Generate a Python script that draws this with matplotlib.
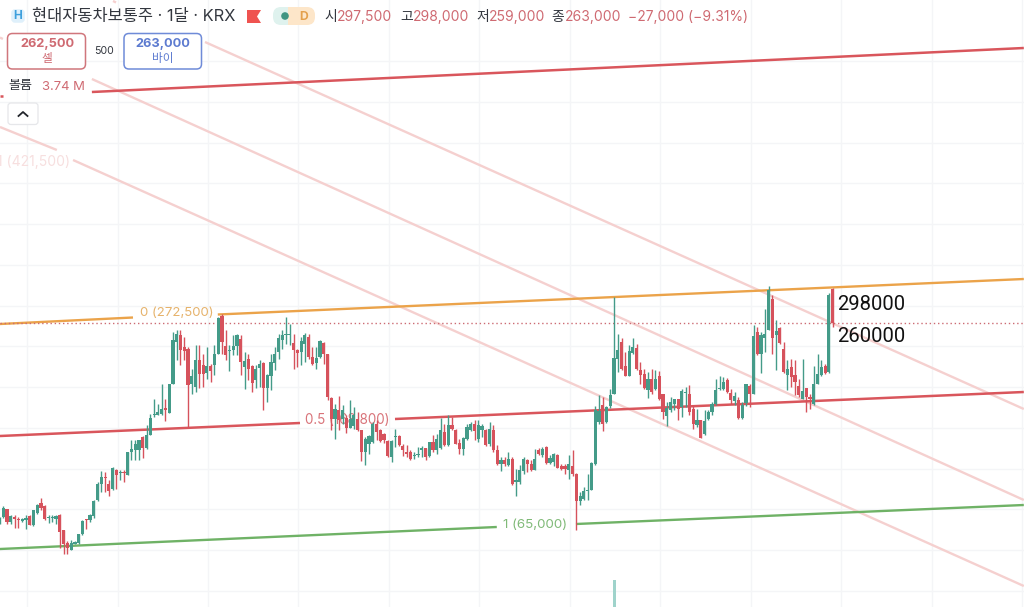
import matplotlib
matplotlib.use("Agg")
import matplotlib.pyplot as plt
from matplotlib.patches import FancyBboxPatch, Polygon, Circle, Rectangle
import numpy as np

plt.rcParams['font.family'] = ['Inter', 'Noto Sans CJK KR', 'DejaVu Sans']

# OHLC, thousands of KRW, monthly bars
opens = [62.5,69.5,77,64.5,69.5,67.5,65.5,66.5,70.5,61,73.5,83.5,80.5,68.5,68.5,67.5,71.5,56,43.5,36.5,
42.5,43.5,52,67,66,70,86,102.5,109.5,102.5,97,116.5,113.5,114.5,111.5,134.5,136,136,149.5,138.5,
151,171,171.5,172.5,178.5,173.5,202.5,244.5,251,239.5,237.5,202,199.5,226,221,213.5,220,221,232.5,270.5,
240,235,236.5,240,247.5,219.5,227.5,220,206,218.5,223.5,198.5,210.5,223.5,234.5,246,251,251.5,243.5,236,
234.5,242,249.5,229.5,223.5,229.5,243.5,232,188.5,167.5,176.5,167.5,168.5,158.5,160,167,156,134.5,142.5,144.5,
162.5,156,152.5,145,129.5,149.5,150,140,134.5,134.5,130,131,136,138.5,130.5,144.5,136.5,138.5,154.5,141,
161,156.5,143.5,137.5,147,156,162.5,147.5,156.5,156.5,142,156.5,136,122,126.5,121,127.5,104.5,104.5,115.5,
126.5,122.5,116.5,136,131,139.5,123.5,124.5,131,120.5,120,116.5,120,112.5,85.5,87.5,95.5,96,122.5,164.5,
181,164.5,180,192.5,227.5,244.5,220,210,233.5,238.5,216.5,212.5,196.5,207,197.5,210.5,192,170,176,182,
187.5,179.5,193.5,192,177.5,161,166,152,167,174.5,182.5,197.5,197.5,206.5,193.5,185.5,186,168.5,183.5,200.5,
192,254.5,232,248.5,256.5,287.5,251,258.5,237,211,219.5,211,200,187.5,198.5,189.5,182.5,202.5,211,220,214.5,297.5]
highs = [69.5,80,77.5,71,71,69.5,68.5,71,71,76.5,82.5,88.5,81,71.5,71,71,72,56.5,45.5,46,
45.5,52.5,66,67.5,72.5,86.5,104.5,115.5,114.5,106,119.5,117.5,116,116,134.5,146,146,146.5,150,161,
172.5,187.5,182.5,202.5,187.5,202.5,254.5,256,256.5,249.5,239.5,217.5,241,241,232.5,239.5,222.5,241,269.5,272.5,
256,241,251,252.5,251,234.5,232.5,221,221,226,224.5,212.5,232.5,239.5,252.5,256,269.5,262.5,252.5,237.5,
249.5,253.5,252.5,239.5,239.5,246.5,244.5,232.5,189.5,182.5,190,181,171,186,179.5,174.5,156.5,149.5,151,164.5,
166,157.5,153.5,146,146,157.5,151,142,141,136.5,134.5,139.5,140,138.5,144.5,151,152.5,168.5,162.5,171,
169.5,157.5,147.5,149.5,162,164.5,166,166,162.5,157.5,164.5,161,141,129.5,129.5,134.5,129.5,117.5,121,129.5,
127.5,126,137.5,138.5,139.5,140,131,133.5,132.5,122,122,131,136,113.5,94.5,99.5,112.5,124.5,180,191,
189.5,180,197.5,289.5,252.5,248.5,234.5,241,248.5,242.5,224.5,217.5,214.5,217.5,216.5,215.5,192.5,184.5,189.5,187.5,
187.5,197.5,199.5,201,181,177.5,166,176,176,184.5,207.5,210,209.5,208.5,197.5,194.5,189.5,184.5,202.5,202.5,
261,259.5,254.5,277.5,300,291,266,259.5,244.5,226,227.5,226,207.5,227.5,198.5,192.5,220,232,226,222.5,293.5,298]
lows = [62,68.5,62.5,62,58.5,58.5,64.5,57.5,61,60,72.5,76,66.5,63.5,64.5,62.5,38.5,32,32.5,36,
42,42.5,51,57.5,64.5,68.5,85,94.5,94.5,90.5,96.5,97.5,106.5,104.5,111,126,126,126.5,128.5,137.5,
151,169.5,171,171,165.5,173,202.5,226,221,226,159.5,192.5,194.5,198.5,199.5,207.5,204.5,211,232.5,232.5,
226,215.5,231,231,211,197,206,194.5,198.5,199.5,176,184.5,196,216,227.5,237.5,242.5,241,217.5,219.5,
221,224.5,227.5,221,217.5,228.5,222.5,186,156.5,147,156,162.5,153.5,158.5,157.5,155.5,125.5,121,132.5,143.5,
146.5,144.5,143.5,129.5,124.5,139.5,140,130,129.5,126,127.5,129.5,129.5,126.5,129.5,134.5,132.5,137.5,140,140,
156,142,132.5,131,146,155.5,146.5,144.5,149.5,140,140,134.5,121,115.5,120,120,101,90,102.5,112.5,
114.5,115.5,116,131,129.5,122.5,122,120,118,116.5,112.5,107.5,110,56,81,86.5,86,96,121,162.5,
155.5,163.5,178.5,192,214.5,216,210,210,232,216.5,202.5,197.5,188.5,192.5,196,186.5,167.5,160.5,174.5,176,
166,169.5,179.5,171,157.5,159.5,148.5,151,166,171,181,196,196,193.5,182,181,167.5,167.5,180,179.5,
192,231,213.5,234.5,256.5,232,216,242.5,213.5,196.5,199.5,191,189.5,187.5,174.5,177.5,181.5,202,210,212,213.5,259]
closes = [68.5,78.5,64.5,70,67.5,66,67.5,68.5,61.5,76,81.5,78.5,67,69.5,69.5,70,54.5,42,38.5,43.5,
44.5,52,65,66,71,85.5,102.5,109.5,108.5,95,118.5,111,114.5,113.5,134.5,137.5,142.5,146.5,138.5,151,
168.5,172.5,174.5,177.5,176,202,246,252,236,235.5,201.5,210,226,212,212,220,215.5,232,268.5,244.5,
231,236,240,251.5,224.5,225.5,217.5,203.5,217.5,222.5,198.5,211,224.5,232,248.5,251,252.5,252.5,236,233.5,
245.5,251,229.5,222.5,228.5,245.5,232.5,189.5,167.5,177.5,166.5,176,158.5,167.5,171,156,134.5,147.5,150.5,162.5,
154.5,145.5,146,130,145.5,150.5,141,136.5,132.5,127.5,131.5,132.5,138.5,129.5,144.5,136.5,147.5,156,141,161,
157,142.5,137.5,148.5,159.5,162.5,155.5,161,160,141,157.5,136,122,126.5,122,127.5,102.5,106.5,116,127.5,
122,116,127.5,132,137.5,123.5,128.5,132,118.5,117.5,117.5,122,112.5,85.5,90,95.5,96,123.5,176,175.5,
162.5,179.5,191,228.5,236.5,217.5,210,235,239.5,217.5,211,198.5,207,194.5,207.5,187.5,174.5,178.5,184.5,187,
177.5,195.5,194.5,174.5,162.5,166.5,148.5,165.5,174.5,182.5,196,198.5,204.5,194.5,186.5,190,168.5,181,202,192.5,
250,232,251,252.5,296,248.5,255.5,243.5,214.5,217.5,209.5,204.5,191,195.5,189.5,187.5,202,212,219.5,213.5,291,263]

last_price = 263
volume_index = [163]
volume_values = [27e6]

# trend-line segments: (bar, price) pairs
orange_segments = [((0.12, 262), (35.4, 268.5)), ((57.9, 271.5), (271.7, 307))]
mid_segments = [((0.12, 150), (79.7, 163)), ((104.9, 167), (271.7, 194))]
green_segments = [((0.12, 37), (131.9, 59)), ((152.9, 62), (271.7, 81))]
top_red_segments = [((0.12, 490), (0.9, 490)), ((24.5, 494), (271.7, 538))]
pink_segments = [((30.1, 585), (30.9, 583.5)), ((54.5, 544), (271.7, 177)),
                 ((0.12, 548.5), (0.9, 547)), ((24.5, 507), (271.7, 86)),
                 ((0.12, 459), (15.2, 436)), ((19.5, 426), (271.7, 0))]

GREEN, RED = '#449b89', '#d6525c'
W, H = 1024, 607
fig = plt.figure(figsize=(W/100, H/100), dpi=100, facecolor='white')
ax = fig.add_axes([0, 0, 1, 1])
ax.set_xlim(0.125, 271.75)
ax.set_ylim(-21, 586)
ax.set_axis_off()

# grid
for gx in 7.3 + 24.0 * np.arange(0, 12):
    ax.axvline(gx, color='#f4f5f7', lw=1, zorder=0)
for gy in 525 - 40.75 * np.arange(0, 14):
    ax.axhline(gy, color='#f4f5f7', lw=1, zorder=0)

def draw(segs, color, lw, z=2):
    for (a, b) in segs:
        ax.plot([a[0], b[0]], [a[1], b[1]], color=color, lw=lw, zorder=z, solid_capstyle='butt')

draw(pink_segments, '#f5d0cf', 1.7)
draw(top_red_segments, '#d9565c', 1.8)
draw(orange_segments, '#eba34a', 1.7)
draw(mid_segments, '#d9565c', 1.8)
draw(green_segments, '#6fb266', 1.7)
ax.axhline(last_price, color='#cc6b73', lw=1.0, ls=(0, (1, 2)), zorder=2)

# labels that candles sit on
lab = dict(va='center', zorder=3)
def dx(px): return (px + 0.47) / 3.77
def dy(py): return 586 - py
ax.text(dx(140), dy(313.5), '0 (272,500)', color='#e6b36c', fontsize=9.5, **lab)
ax.text(dx(305), dy(420), '0.5 (168,800)', color='#d9747a', fontsize=9.7, **lab)
ax.text(dx(503), dy(525.5), '1 (65,000)', color='#80ba78', fontsize=9.6, **lab)
ax.text(dx(-3), dy(162), '1 (421,500)', color='#f7dfdf', fontsize=10, clip_on=True, **lab)

# candles
idx = np.arange(len(closes))
o, h, l, c = map(np.array, (opens, highs, lows, closes))
colors = [GREEN if cc >= oo else RED for oo, cc in zip(o, c)]
ax.vlines(idx, l, h, colors=colors, lw=1.0, zorder=4)
top = np.maximum(o, c); bot = np.minimum(o, c)
ax.bar(idx, np.maximum(top - bot, 1), bottom=bot, width=0.84, color=colors, lw=0, zorder=5)

# volume
ax2 = ax.twinx()
ax2.set_ylim(0, 607e6)
ax2.set_axis_off()
ax2.bar(volume_index, volume_values, width=0.8, color='#9fd3cb', lw=0)

# overlay (pixel coordinates)
ov = fig.add_axes([0, 0, 1, 1], facecolor='none')
ov.set_xlim(0, W); ov.set_ylim(H, 0); ov.set_axis_off()

def T(x, y, s, color='#2a2e39', size=10, weight='normal', ha='left', family=None):
    kw = {'family': family} if family else {}
    ov.text(x, y, s, color=color, fontsize=size, fontweight=weight, ha=ha, va='center', **kw)

def box(x0, y0, x1, y1, ec, fc='white', r=5, lw=1.1):
    ov.add_patch(FancyBboxPatch((x0 + r, y0 + r), x1 - x0 - 2*r, y1 - y0 - 2*r,
                                boxstyle=f'round,pad={r},rounding_size={r}', ec=ec, fc=fc, lw=lw))

REDT, BLUET = '#cf6a72', '#5d7bd0'
box(12, 10, 24, 22, '#dff0fb', '#dff0fb', r=3)
T(18, 16, 'H', '#3d9fdc', 8.5, 'bold', 'center')
T(32, 16.5, '현대자동차보통주 · 1달 · KRX', '#33373f', 11.8)
ov.add_patch(Polygon([(247, 10), (261, 10), (257, 16.5), (261, 23), (247, 23)], fc='#ef5350', ec='none'))
box(273, 7, 296, 25, '#dff2ee', '#dff2ee', r=8, lw=0)
box(288, 7, 315, 25, '#fde6c9', '#fde6c9', r=8, lw=0)
ov.add_patch(Rectangle((288, 7), 8, 18, fc='#fde6c9', ec='none'))
ov.add_patch(Circle((285, 16), 3.8, fc='#3f9582', ec='none'))
T(304, 16.5, 'D', '#e4a04c', 8.8, 'bold', 'center')

T(324, 16.5, '시', '#33373f', 10)
T(337, 16.5, '297,500', REDT, 10)
T(400, 16.5, '고', '#33373f', 10)
T(413, 16.5, '298,000', REDT, 10)
T(476, 16.5, '저', '#33373f', 10)
T(489, 16.5, '259,000', REDT, 10)
T(551, 16.5, '종', '#33373f', 10)
T(565, 16.5, '263,000', REDT, 10)
T(628, 16.5, '−27,000 (−9.31%)', REDT, 10)

box(7.5, 33.5, 85.5, 69, '#d0767c')
T(47, 44.5, '262,500', REDT, 9.2, 'bold', 'center')
T(47, 59, '셀', REDT, 8.4, ha='center')
T(104, 51, '500', '#33373f', 7.6, ha='center')
box(124, 33.5, 201.5, 69, '#6f8bd8')
T(163, 44.5, '263,000', BLUET, 9.2, 'bold', 'center')
T(163, 59, '바이', BLUET, 8.4, ha='center')

T(8, 86.5, '볼륨', '#33373f', 9.4)
T(42, 87.5, '3.74 M', REDT, 9.4)
box(8, 103, 38, 124.5, '#e6e7ea', r=3, lw=0.9)
ov.plot([18.5, 23, 27.5], [116, 112, 116], color='#22252b', lw=1.3)

T(837, 304, '298000', '#111111', 14.6, family='Roboto')
T(837, 337, '260000', '#111111', 14.6, family='Roboto')

fig.savefig('out.png', dpi=100)
